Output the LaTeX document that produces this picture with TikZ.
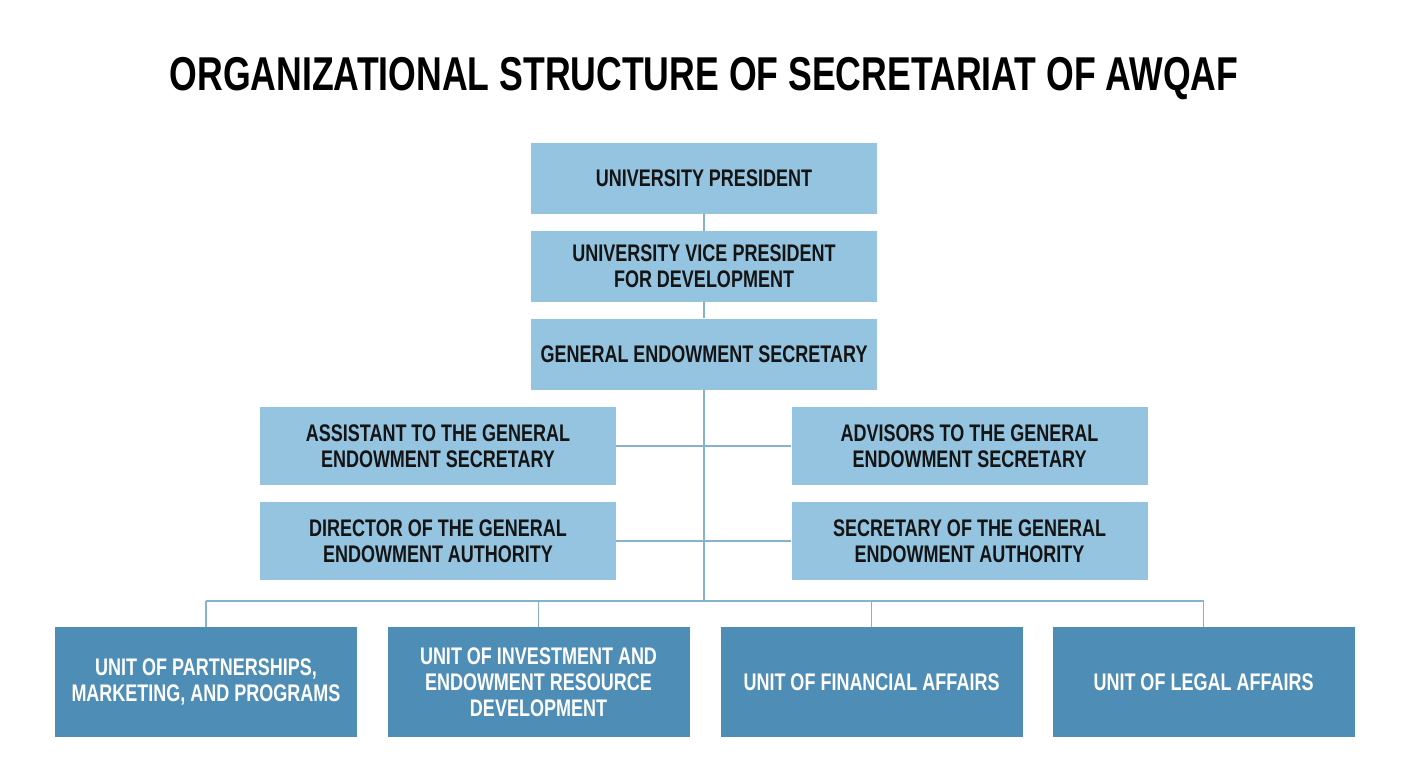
\documentclass[tikz,border=0pt]{standalone}
\usepackage{fontspec}
\setmainfont{Liberation Sans}[FakeStretch=0.75]
\definecolor{lightbox}{HTML}{94C4DF}
\definecolor{darkbox}{HTML}{4E8DB5}
\definecolor{linec}{HTML}{86B3CC}
\definecolor{txt}{HTML}{141414}
\tikzset{
  lbox/.style={fill=lightbox, draw=none, minimum width=346pt, minimum height=71pt, align=center, text=txt,
    font=\fontsize{24}{26}\selectfont\bfseries, inner sep=0pt},
  sbox/.style={lbox, minimum width=356pt, minimum height=78pt},
  ubox/.style={fill=darkbox, draw=none, minimum width=302pt, minimum height=110pt, align=center, text=white,
    font=\fontsize{24}{26}\selectfont\bfseries, inner sep=0pt},
  conn/.style={draw=linec, line width=1.5pt}
}
\begin{document}
\begin{tikzpicture}[x=1pt,y=-1pt]
\useasboundingbox (0,0) rectangle (1408,768);
\fill[white] (0,0) rectangle (1408,768);
\node[font=\fontsize{47.5}{50}\selectfont\bfseries, text=black] (title) at (704,79) {ORGANIZATIONAL STRUCTURE OF SECRETARIAT OF AWQAF};
\node[lbox] (pres) at (704,178.5) {UNIVERSITY PRESIDENT};
\node[lbox] (vp) at (704,266.5) {UNIVERSITY VICE PRESIDENT\\FOR DEVELOPMENT};
\node[lbox] (ges) at (704,354) {GENERAL ENDOWMENT SECRETARY};
\node[sbox] (asst) at (438,446) {ASSISTANT TO THE GENERAL\\ENDOWMENT SECRETARY};
\node[sbox] (adv) at (969.5,446) {ADVISORS TO THE GENERAL\\ENDOWMENT SECRETARY};
\node[sbox] (dir) at (438,541) {DIRECTOR OF THE GENERAL\\ENDOWMENT AUTHORITY};
\node[sbox] (sec) at (969.5,541) {SECRETARY OF THE GENERAL\\ENDOWMENT AUTHORITY};
\node[ubox] (u1) at (206,682) {UNIT OF PARTNERSHIPS,\\MARKETING, AND PROGRAMS};
\node[ubox] (u2) at (538.5,682) {UNIT OF INVESTMENT AND\\ENDOWMENT RESOURCE\\DEVELOPMENT};
\node[ubox] (u3) at (871.5,682) {UNIT OF FINANCIAL AFFAIRS};
\node[ubox] (u4) at (1203.5,682) {UNIT OF LEGAL AFFAIRS};
\coordinate (bus) at (704,601);
\draw[conn] (pres.south) -- (vp.north);
\draw[conn] (vp.south) -- (ges.north);
\draw[conn] (ges.south) -- (bus);
\draw[conn] (asst.east) -- (adv.west);
\draw[conn] (dir.east) -- (sec.west);
\draw[conn] (u1.north |- bus) -- (u4.north |- bus);
\foreach \u in {u1,u2,u3,u4} { \draw[conn] (\u.north) -- (\u.north |- bus); }
\end{tikzpicture}
\end{document}
